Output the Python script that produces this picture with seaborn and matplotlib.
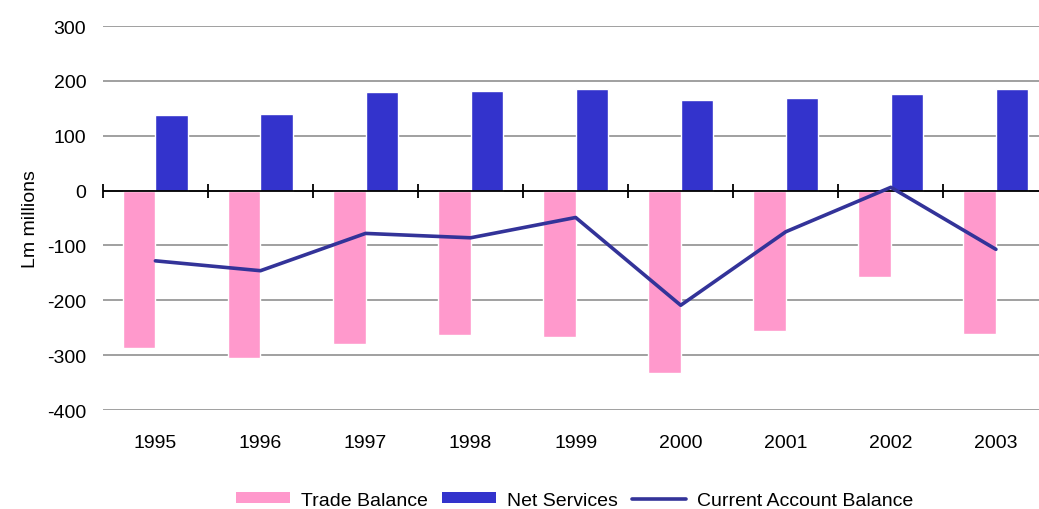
import numpy as np
import pandas as pd
import matplotlib
matplotlib.use("Agg")
import matplotlib.pyplot as plt
import seaborn as sns
from matplotlib.patches import Patch
from matplotlib.lines import Line2D

years = ["1995", "1996", "1997", "1998", "1999", "2000", "2001", "2002", "2003"]
trade_balance = [-286, -305, -280, -263, -266, -333, -255, -157, -262]
net_services = [137, 140, 179, 182, 185, 165, 168, 176, 185]
current_account = [-128, -146, -78, -86, -49, -209, -75, 6, -107]
yticks = [300, 200, 100, 0, -100, -200, -300, -400]

sns.set_theme(style="white")
plt.rcParams["font.family"] = ["Liberation Sans", "DejaVu Sans"]
plt.rcParams["text.color"] = "black"
plt.rcParams["axes.labelcolor"] = "black"
plt.rcParams["xtick.color"] = "black"
plt.rcParams["ytick.color"] = "black"

c_trade = "#FF99CC"
c_serv = "#3333CC"
c_cab = "#333399"
fs = 14

df = pd.DataFrame({
    "Year": years * 2,
    "Value": trade_balance + net_services,
    "Series": ["Trade Balance"] * len(years) + ["Net Services"] * len(years),
})

fig = plt.figure(figsize=(10.39, 5.10), dpi=100)
ax = fig.add_axes([0.099, 0.194, 0.901, 0.753])

sns.barplot(data=df, x="Year", y="Value", hue="Series", order=years,
            hue_order=["Trade Balance", "Net Services"],
            palette=[c_trade, c_serv], width=0.62, gap=0, saturation=1,
            dodge=True, ax=ax, legend=False, zorder=2)

pos = np.arange(len(years))
sns.lineplot(x=pos, y=current_account, color=c_cab, lw=2.6, ax=ax, zorder=4)

ax.set_ylim(-400, 300)
ax.set_xlim(-0.5, 8.41)
ax.set_yticks(yticks)
ax.set_yticklabels([str(v) for v in yticks], fontsize=fs)
ax.set_xticks(pos)
ax.set_xticklabels(years, fontsize=fs)
ax.tick_params(axis="x", length=0, pad=17)
ax.tick_params(axis="y", length=0, pad=12)
ax.yaxis.grid(True, color="#999999", lw=1.3, zorder=0)
ax.xaxis.grid(False)
ax.set_axisbelow(True)
for s in ax.spines.values():
    s.set_visible(False)

ax.axhline(0, color="black", lw=1.3, zorder=3)
bounds = np.arange(len(years) + 1) - 0.5
ax.plot(bounds, np.zeros_like(bounds), ls="none", marker="|", ms=10,
        mew=1.3, color="black", zorder=3, clip_on=False)

ax.set_xlabel("")
ax.set_ylabel("Lm millions", fontsize=fs, labelpad=6)

handles = [Patch(facecolor=c_trade, edgecolor="none"),
           Patch(facecolor=c_serv, edgecolor="none"),
           Line2D([0], [0], color=c_cab, lw=2.6)]
labels = ["Trade Balance", "Net Services", "Current Account Balance"]
fig.legend(handles, labels, loc="center", bbox_to_anchor=(0.553, 0.017),
           ncol=3, frameon=False, fontsize=fs, handlelength=2.8,
           handleheight=0.5, handletextpad=0.55, columnspacing=0.72)

fig.savefig("out.png", dpi=100)
